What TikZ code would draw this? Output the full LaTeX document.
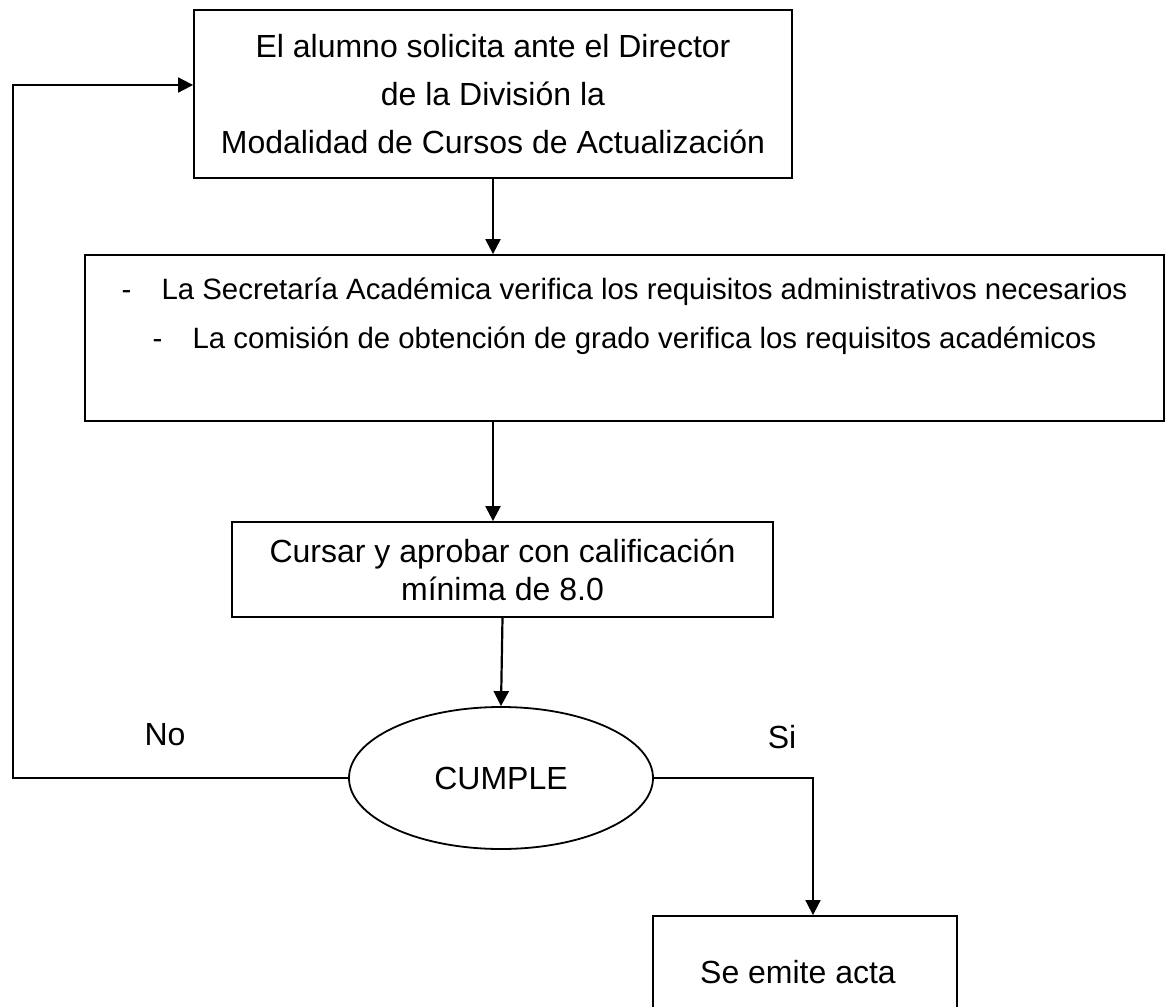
\documentclass[tikz,border=0pt]{standalone}
\usepackage{fontspec}
\setmainfont{Liberation Sans}
\usetikzlibrary{shapes.geometric,arrows.meta}

\tikzset{every picture/.style={line width=0.9pt}}
\tikzset{caja/.style={draw,align=center,inner sep=0pt,font=\fontsize{16}{24}\selectfont},
	flecha/.style={-{Triangle[length=7.5pt,width=7.5pt]},line width=1.1pt},
	linea/.style={line width=0.9pt}}

\begin{document}
\begin{tikzpicture}[x=0.5pt,y=-0.5pt]
				\useasboundingbox (0,0) rectangle (1169,1007);
				\node[caja,minimum width=299pt,minimum height=84pt] (solicitud) at (493,94) {El alumno solicita ante el Director\\de la División la\\Modalidad de Cursos de Actualización}; %solicitud
				\node[caja,minimum width=539.5pt,minimum height=83pt,font=\fontsize{14.7}{24.5}\selectfont] (verifica) at (624.5,338) {-\hspace{15pt}La Secretaría Académica verifica los requisitos administrativos necesarios\\-\hspace{15pt}La comisión de obtención de grado verifica los requisitos académicos\\ \mbox{}}; %verificación
				\node[caja,minimum width=270.5pt,minimum height=47.5pt,font=\fontsize{16}{19}\selectfont] (cursar) at (502.5,569.5) {Cursar y aprobar con calificación\\mínima de 8.0}; %cursos
				\node[caja,ellipse,minimum width=152pt,minimum height=71pt] (cumple) at (501,778) {CUMPLE}; %decisión
				\node[caja,minimum width=152pt,minimum height=56pt] (acta) at (805,972) {\hspace{-7pt}Se emite acta}; %acta
				\node[font=\fontsize{16}{19}\selectfont] (no) at (165,735) {No};
				\node[font=\fontsize{16}{19}\selectfont] (si) at (782,737) {Si};
				\coordinate (lazo) at (13,85); %esquina del regreso
				\draw[flecha] (solicitud.south) -- (verifica.north -| solicitud.south);
				\draw[flecha] (verifica.south -| solicitud.south) -- (cursar.north -| solicitud.south);
				\draw[flecha] (cursar.south) -- (cumple.north);
				\draw[linea,-{Triangle[length=7.5pt,width=7.5pt]}] (cumple.west) -| (lazo) -- (lazo -| solicitud.west); %No
				\draw[linea,-{Triangle[length=7.5pt,width=7.5pt]}] (cumple.east) -| ([xshift=4pt]acta.north); %Si
			\end{tikzpicture}
\end{document}
